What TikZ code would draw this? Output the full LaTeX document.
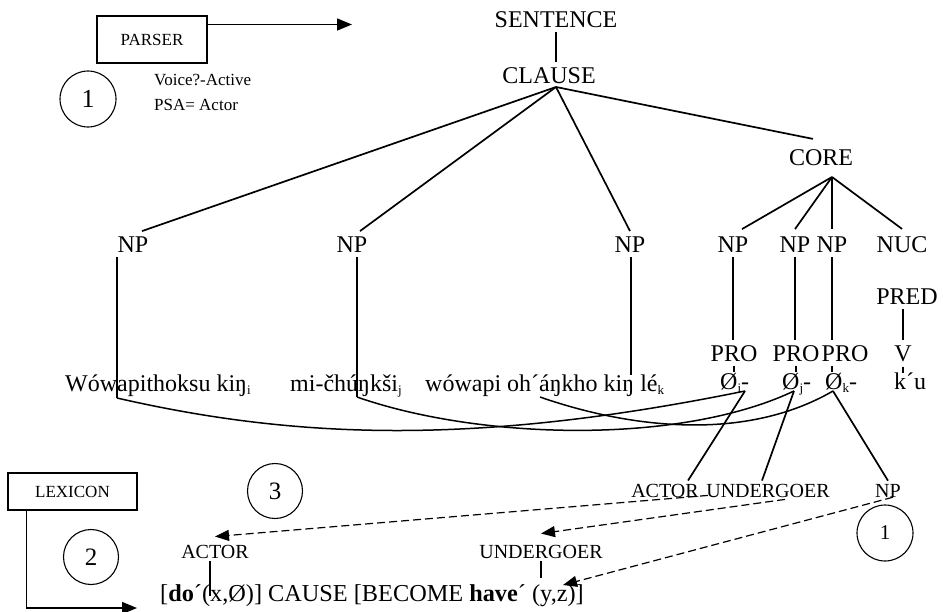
\documentclass[tikz,border=0pt]{standalone}
\usepackage{fontspec}
\setmainfont{Liberation Serif}
\usetikzlibrary{arrows.meta}
\newcommand\sbx[1]{\raisebox{-0.3ex}{\fontsize{13}{13}\selectfont #1}}
\begin{document}
\begin{tikzpicture}[x=1pt,y=-1pt,
  lbl/.style={font=\fontsize{24}{24}\selectfont, inner xsep=2pt, inner ysep=5pt, anchor=base},
  wrd/.style={font=\fontsize{24}{24}\selectfont, inner sep=0pt, anchor=base west},
  sml/.style={font=\fontsize{17}{17}\selectfont, inner sep=1pt, anchor=base west},
  role/.style={font=\fontsize{20}{20}\selectfont, inner xsep=1pt, inner ysep=3pt, anchor=base},
  num/.style={draw, circle, minimum size=55pt, inner sep=0pt, line width=1.1pt, font=\fontsize{25}{25}\selectfont},
  tline/.style={line width=1.7pt},
  cross/.style={line width=1.5pt},
  dsh/.style={line width=1.2pt, dash pattern=on 8pt off 4pt, -{Triangle[length=14pt,width=11pt]}},
  bx/.style={draw, line width=1.1pt, inner sep=0pt, font=\fontsize{17}{17}\selectfont},
  arr/.style={line width=1.5pt, -{Triangle[length=15pt,width=12pt]}}]
\useasboundingbox (0,0) rectangle (943,611);
\fill[white] (0,0) rectangle (943,611);

% boxes and side notes
\node[bx, minimum width=110pt, minimum height=47pt] (parser) at (152,39.5) {PARSER\hspace{10pt}};
\coordinate (parserTip) at (352,24.5);
\draw[arr] ([yshift=15pt]parser.east) -- (parserTip);
\node[num, font=\fontsize{26}{26}\selectfont, minimum size=56pt] (c1) at (88,99) {1};
\node[sml] (voice) at (153,85) {Voice?-Active};
\node[sml] (psa) at (153,110) {PSA= Actor};

\node[bx, minimum width=129pt, minimum height=37pt] (lex) at (72.5,491.5) {LEXICON\hspace{18pt}};
\coordinate (lexTip) at (137,608);
\draw[arr] ([xshift=19pt]lex.south west) |- (lexTip);
\node[num] (c2) at (91,557) {2};
\node[num] (c3) at (275,491) {3};

% tree
\node[lbl] (sent) at (556,27) {SENTENCE};
\node[lbl] (clause) at (549,83) {CLAUSE};
\draw[tline] (sent.south) -- (sent.south |- clause.north);
\coordinate (clA) at (556,87);
\node[lbl] (np1) at (133,252) {NP};
\node[lbl] (np2) at (352,252) {NP};
\node[lbl] (np3) at (630,252) {NP};
\node[lbl] (core) at (821,165) {CORE};
\draw[tline] (clA) -- ([xshift=9pt]np1.north);
\draw[tline] (clA) -- ([xshift=8pt]np2.north);
\draw[tline] (clA) -- (np3.north);
\draw[tline] (clA) -- ([xshift=-8pt,yshift=5pt]core.north);

\coordinate (coA) at (832,177);
\node[lbl] (np4) at (733,252) {NP};
\node[lbl] (np5) at (795,252) {NP};
\node[lbl] (np6) at (832,252) {NP};
\node[lbl] (nuc) at (902,252) {NUC};
\draw[tline] (coA) -- ([xshift=9pt,yshift=2pt]np4.north);
\draw[tline] (coA) -- ([yshift=2pt]np5.north);
\draw[tline] (coA) -- ([yshift=2pt]np6.north);
\draw[tline] (coA) -- ([yshift=2pt]nuc.north);

\node[lbl] (pred) at (907,304) {PRED};
\node[lbl] (pro1) at (734,361) {PRO};
\node[lbl] (pro2) at (796,361) {PRO};
\node[lbl] (pro3) at (845,361) {PRO};
\node[lbl] (v) at (903,361) {V};
\draw[tline] (np4.south) -- (np4.south |- pro1.north);
\draw[tline] (np5.south) -- (np5.south |- pro2.north);
\draw[tline] (np6.south) -- (np6.south |- pro3.north);
\draw[tline] (nuc.south -| v) -- (nuc.south -| v |- pred.north);
\draw[tline] (pred.south -| v) -- (v.north);

% words
\node[wrd] (w1) at (65,391) {Wówapithoksu kiŋ\sbx{i}};
\node[wrd] (w2) at (290,391) {mi-čhúŋkši\sbx{j}};
\node[wrd] (w3) at (425,391) {wówapi oh´áŋkho kiŋ lé\sbx{k}};
\node[wrd] (o1) at (720,389) {Ø\sbx{i}-};
\node[wrd] (o2) at (782,389) {Ø\sbx{j}-};
\node[wrd] (o3) at (825,389) {Ø\sbx{k}-};
\node[wrd, anchor=base] (ku) at (910,389) {k´u};

\draw[tline] (pro1.south) -- ++(0,6);
\draw[tline] (pro2.south) -- ++(0,6);
\draw[tline] ([xshift=-13pt]pro3.south) -- ++(0,6);
\draw[tline] (v.south) -- ++(0,6);

\coordinate (w1a) at (117,398);
\coordinate (w2a) at (357,397);
\coordinate (w3a) at (540,397);
\coordinate (np3e) at (631,375);
\coordinate (o1a) at (745,391);
\coordinate (o2a) at (794,391);
\coordinate (o3a) at (833,391);
\draw[tline] (np1.south -| w1a) -- (w1a);
\draw[tline] (np2.south -| w2a) -- (w2a);
\draw[tline] (np3.south -| np3e) -- (np3e);

\draw[cross] (w1a) .. controls (300,440) and (480,445) .. (o1a);
\draw[cross] (w2a) .. controls (480,440) and (680,445) .. (o2a);
\draw[cross] (w3a) .. controls (620,425) and (740,445) .. (o3a);

% roles
\node[role] (actT) at (665,497) {ACTOR};
\node[role] (undT) at (768,497) {UNDERGOER};
\node[role] (npT) at (888,497) {NP};
\draw[tline] (o1a) -- ([xshift=23pt]actT.north);
\draw[tline] (o2a) -- ([xshift=-6pt]undT.north);
\draw[tline] (o3a) -- (npT.north);
\node[num, font=\fontsize{21}{21}\selectfont, minimum size=56pt] (c1b) at (885,533) {1};

\node[role] (actB) at (215,558) {ACTOR};
\node[role] (undB) at (541,558) {UNDERGOER};
\node[font=\fontsize{24.3}{24.3}\selectfont, inner sep=0pt, anchor=base west] (form) at (160,601)
  {[\textbf{do}´(x,Ø)] CAUSE [BECOME \textbf{have}´ (y,z)]};
\draw[tline, line width=1.3pt] ([xshift=-5pt]actB.south) -- ++(0,35);
\draw[tline, line width=1.3pt] (undB.south) -- ++(0,17);

\coordinate (zTip) at (563,585);
\draw[dsh] ([xshift=43pt,yshift=5pt]actT.south) -- ([yshift=5pt]actB.north);
\draw[dsh] ([xshift=17pt,yshift=1pt]undT.south) -- ([yshift=8pt]undB.north);
\draw[dsh] ([xshift=5pt,yshift=3pt]npT.south) -- (zTip);
\end{tikzpicture}
\end{document}
